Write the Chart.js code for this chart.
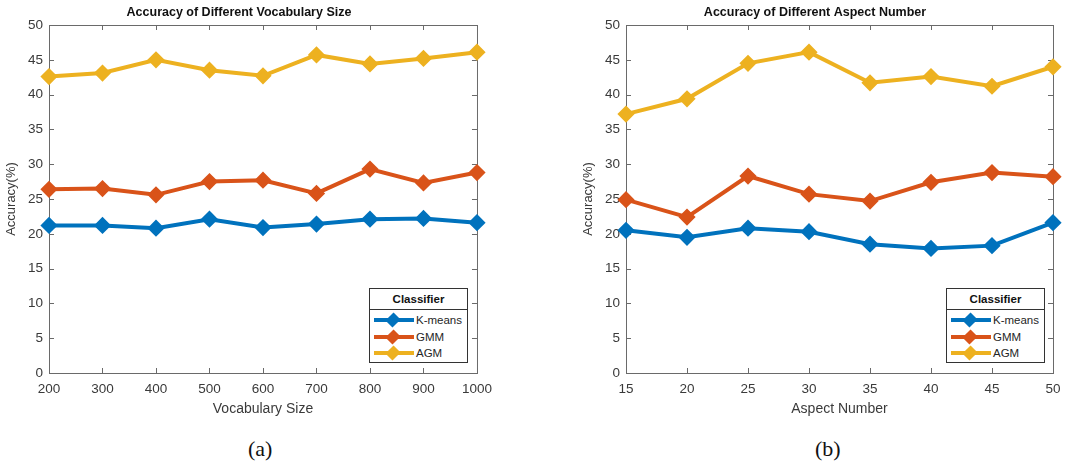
<!DOCTYPE html>
<html>
<head>
<meta charset="utf-8">
<script src="https://cdn.jsdelivr.net/npm/chart.js@4.4.0/dist/chart.umd.min.js"></script>
<style>
  body { margin: 0; background: #fff; font-family: "Liberation Sans", Arial, sans-serif; }
  #page { position: relative; width: 1081px; height: 468px; overflow: hidden; }
  .wrap { position: absolute; top: 0; height: 425px; }
  .legend { position: absolute; width: 97px; height: 73px; border: 1px solid #333; background: #fff; }
  .legend .ttl { height: 20px; line-height: 20px; text-align: center; font-weight: bold; font-size: 11.5px; color: #111; border-bottom: 1px solid #333; }
  .legend .row { position: absolute; left: 0; height: 16px; width: 97px; }
  .legend .ln { position: absolute; left: 4px; top: 6px; width: 40px; height: 4px; }
  .legend .dm { position: absolute; left: 18px; top: 2.5px; width: 10px; height: 10px; transform: rotate(45deg) scaleY(1.15); }
  .legend .tx { position: absolute; left: 46px; top: 0; font-size: 11.5px; line-height: 16px; color: #262626; }
  .cap { position: absolute; top: 436px; font-family: "Liberation Serif", "Times New Roman", serif; font-size: 22px; color: #111; }
</style>
</head>
<body>
<div id="page">
  <div class="wrap" style="left:0;width:500px"><canvas id="chartA"></canvas></div>
  <div class="wrap" style="left:577px;width:498px"><canvas id="chartB"></canvas></div>
  <div class="legend" id="legA" style="left:369px;top:288px"></div>
  <div class="legend" id="legB" style="left:946px;top:288px"></div>
  <div class="cap" style="left:248px">(a)</div>
  <div class="cap" style="left:815px">(b)</div>
</div>
<script>
// --- data ---
const seriesNames = ['K-means', 'GMM', 'AGM'];
const seriesColors = ['#0072BD', '#D95319', '#EDB120'];

const vocabSizes = [200, 300, 400, 500, 600, 700, 800, 900, 1000];
const vocabKmeans = [21.2, 21.2, 20.8, 22.1, 20.9, 21.4, 22.1, 22.2, 21.6];
const vocabGmm = [26.4, 26.5, 25.6, 27.5, 27.7, 25.8, 29.3, 27.3, 28.8];
const vocabAgm = [42.6, 43.1, 45.0, 43.5, 42.7, 45.7, 44.4, 45.2, 46.1];

const aspectNums = [15, 20, 25, 30, 35, 40, 45, 50];
const aspectKmeans = [20.5, 19.5, 20.8, 20.3, 18.5, 17.9, 18.3, 21.6];
const aspectGmm = [24.9, 22.4, 28.3, 25.7, 24.7, 27.4, 28.8, 28.2];
const aspectAgm = [37.2, 39.4, 44.5, 46.1, 41.7, 42.6, 41.2, 44.0];

const FONT = '"Liberation Sans", Arial, sans-serif';
const TEXT = '#3a3a3a';
const AXIS = '#6a6a6a';

// matlab style box with inward ticks on all four sides
const boxPlugin = {
  id: 'box',
  beforeDatasetsDraw(chart) {
    const { ctx, chartArea: a, scales } = chart;
    ctx.save();
    ctx.strokeStyle = AXIS;
    ctx.lineWidth = 1;
    ctx.strokeRect(a.left + 0.5, a.top + 0.5, a.right - a.left, a.bottom - a.top);
    ctx.beginPath();
    scales.x.ticks.forEach(t => {
      const px = Math.round(scales.x.getPixelForValue(t.value)) + 0.5;
      ctx.moveTo(px, a.bottom); ctx.lineTo(px, a.bottom - 5);
      ctx.moveTo(px, a.top); ctx.lineTo(px, a.top + 5);
    });
    scales.y.ticks.forEach(t => {
      const py = Math.round(scales.y.getPixelForValue(t.value)) + 0.5;
      ctx.moveTo(a.left, py); ctx.lineTo(a.left + 5, py);
      ctx.moveTo(a.right, py); ctx.lineTo(a.right - 5, py);
    });
    ctx.stroke();
    ctx.restore();
  }
};

function makeChart(id, title, xTitle, xs, ys, xMin, xMax, xStep) {
  const datasets = ys.map((vals, i) => ({
    label: seriesNames[i],
    data: xs.map((x, j) => ({ x, y: vals[j] })),
    borderColor: seriesColors[i],
    backgroundColor: seriesColors[i],
    borderWidth: 4,
    pointStyle: 'rectRot',
    pointRadius: 6.5,
    pointBorderWidth: 3,
    clip: false
  }));
  return new Chart(document.getElementById(id), {
    type: 'line',
    data: { datasets },
    plugins: [boxPlugin],
    options: {
      responsive: true,
      maintainAspectRatio: false,
      animation: false,
      layout: { padding: { top: 0, right: 22, bottom: 0, left: 0 } },
      plugins: {
        legend: { display: false },
        tooltip: { enabled: false },
        title: {
          display: true, text: title, color: '#111',
          font: { family: FONT, size: 12.5, weight: 'bold', lineHeight: 1.2 },
          padding: { top: 5.5, bottom: 4.5 }
        }
      },
      scales: {
        x: {
          type: 'linear', min: xMin, max: xMax,
          afterFit: s => { s.height = 52; },
          grid: { display: false, drawTicks: false },
          border: { display: false },
          ticks: { stepSize: xStep, color: TEXT, padding: 8, maxRotation: 0, callback: v => String(v), font: { family: FONT, size: 13.5 } },
          title: { display: true, text: xTitle, color: TEXT, padding: { top: 2, bottom: 7 }, font: { family: FONT, size: 14 } }
        },
        y: {
          min: 0, max: 50,
          afterFit: s => { s.width = 49; },
          grid: { display: false, drawTicks: false },
          border: { display: false },
          ticks: { stepSize: 5, color: TEXT, padding: 6, font: { family: FONT, size: 13.5 } },
          title: { display: true, text: 'Accuracy(%)', color: TEXT, padding: { top: 4, bottom: 0 }, font: { family: FONT, size: 13 } }
        }
      }
    }
  });
}

function makeLegend(id) {
  const box = document.getElementById(id);
  let html = '<div class="ttl">Classifier</div>';
  const tops = [23, 40, 56];
  seriesNames.forEach((n, i) => {
    html += `<div class="row" style="top:${tops[i]}px"><div class="ln" style="background:${seriesColors[i]}"></div>` +
      `<div class="dm" style="background:${seriesColors[i]}"></div><div class="tx">${n}</div></div>`;
  });
  box.innerHTML = html;
}

makeChart('chartA', 'Accuracy of Different Vocabulary Size', 'Vocabulary Size',
  vocabSizes, [vocabKmeans, vocabGmm, vocabAgm], 200, 1000, 100);
makeChart('chartB', 'Accuracy of Different Aspect Number', 'Aspect Number',
  aspectNums, [aspectKmeans, aspectGmm, aspectAgm], 15, 50, 5);
makeLegend('legA');
makeLegend('legB');
</script>
</body>
</html>
